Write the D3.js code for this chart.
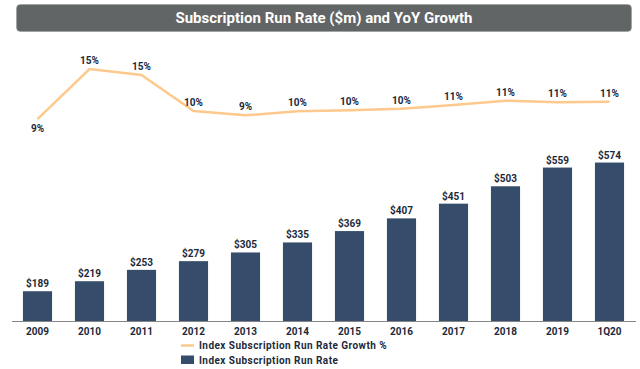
<!DOCTYPE html>
<html lang="en">
<head>
<meta charset="UTF-8">
<title>Subscription Run Rate</title>
<script src="https://d3js.org/d3.v7.min.js"></script>
<style>
  body { margin:0; background:#ffffff; }
  svg { display:block; font-family: Roboto, "Noto Sans", sans-serif; }
</style>
</head>
<body>
<svg id="chart" width="640" height="369"></svg>
<script>
// data
var periods = ["2009","2010","2011","2012","2013","2014","2015","2016","2017","2018","2019","1Q20"];
var runRate = [189, 219, 253, 279, 305, 335, 369, 407, 451, 503, 559, 574];
var growth = [8.6, 15.4, 14.6, 9.7, 9.1, 9.65, 9.78, 10.0, 10.5, 11.1, 10.9, 10.95];
var growthLabels = ["9%","15%","15%","10%","9%","10%","10%","10%","11%","11%","11%","11%"];
var legendNames = ["Index Subscription Run Rate Growth %", "Index Subscription Run Rate"];

var svg = d3.select("#chart"),
    width = +svg.attr("width"),
    height = +svg.attr("height");

var textColor = "#1c2a3b",
    barColor = "#364c6b",
    lineColor = "#fdc98c";

// title banner
svg.append("rect")
  .attr("x", 16.5).attr("y", 4.5)
  .attr("width", 615).attr("height", 27)
  .attr("rx", 4)
  .attr("fill", "#626565")
  .attr("stroke", "#9a9c9c").attr("stroke-width", 0.6);
svg.append("text")
  .attr("x", 324).attr("y", 23)
  .attr("text-anchor", "middle")
  .attr("fill", "#ffffff")
  .style("font-size", "15px").style("font-weight", 700)
  .text("Subscription Run Rate ($m) and YoY Growth");

// scales
var x = d3.scaleBand()
  .domain(periods)
  .range([11.5, 635.5])
  .paddingInner(0.44)
  .paddingOuter(0.22);

var baseY = 321;
var yBar = d3.scaleLinear()
  .domain([100, 600])
  .range([baseY, baseY - 0.3343 * 500]);

var yLine = d3.scaleLinear()
  .domain([7, 17])
  .range([130.8, 57.3]);

// bars
svg.append("g")
  .selectAll("rect")
  .data(runRate)
  .enter()
  .append("rect")
    .attr("x", function(d, i) { return x(periods[i]); })
    .attr("y", function(d) { return yBar(d); })
    .attr("width", x.bandwidth())
    .attr("height", function(d) { return baseY - yBar(d); })
    .attr("fill", barColor);

svg.append("g")
  .selectAll("text")
  .data(runRate)
  .enter()
  .append("text")
    .attr("x", function(d, i) { return x(periods[i]) + x.bandwidth() / 2; })
    .attr("y", function(d) { return yBar(d) - 4; })
    .attr("text-anchor", "middle")
    .attr("fill", textColor)
    .style("font-size", "10px").style("font-weight", 700)
    .text(function(d) { return "$" + d; });

// x axis
var xAxis = svg.append("g")
  .attr("transform", "translate(0," + baseY + ")")
  .call(d3.axisBottom(x).tickSize(0).tickPadding(7));
xAxis.select(".domain")
  .attr("d", "M12,0.5H636")
  .attr("stroke", "#858585");
xAxis.selectAll("text")
  .attr("fill", textColor)
  .style("font-family", "Roboto, sans-serif")
  .style("font-size", "10px").style("font-weight", 700);

// growth line
var line = d3.line()
  .x(function(d, i) { return x(periods[i]) + x.bandwidth() / 2; })
  .y(function(d) { return yLine(d); });

svg.append("path")
  .datum(growth)
  .attr("d", line)
  .attr("fill", "none")
  .attr("stroke", lineColor)
  .attr("stroke-width", 2.5);

svg.append("g")
  .selectAll("text")
  .data(growth)
  .enter()
  .append("text")
    .attr("x", function(d, i) { return x(periods[i]) + x.bandwidth() / 2; })
    .attr("y", function(d, i) { return i === 0 ? yLine(d) + 13 : yLine(d) - 5; })
    .attr("text-anchor", "middle")
    .attr("fill", textColor)
    .style("font-size", "10px").style("font-weight", 700)
    .text(function(d, i) { return growthLabels[i]; });

// legend
var legend = svg.append("g");
legend.append("line")
  .attr("x1", 181).attr("x2", 194)
  .attr("y1", 345.5).attr("y2", 345.5)
  .attr("stroke", lineColor).attr("stroke-width", 2.5);
legend.append("rect")
  .attr("x", 181).attr("y", 355.5)
  .attr("width", 13).attr("height", 8.5)
  .attr("fill", barColor);
legend.selectAll("text")
  .data(legendNames)
  .enter()
  .append("text")
    .attr("x", 199)
    .attr("y", function(d, i) { return 349.3 + i * 14.5; })
    .attr("fill", textColor)
    .style("font-size", "10px").style("font-weight", 700)
    .style("letter-spacing", "0.45px")
    .text(function(d) { return d; });
</script>
</body>
</html>
